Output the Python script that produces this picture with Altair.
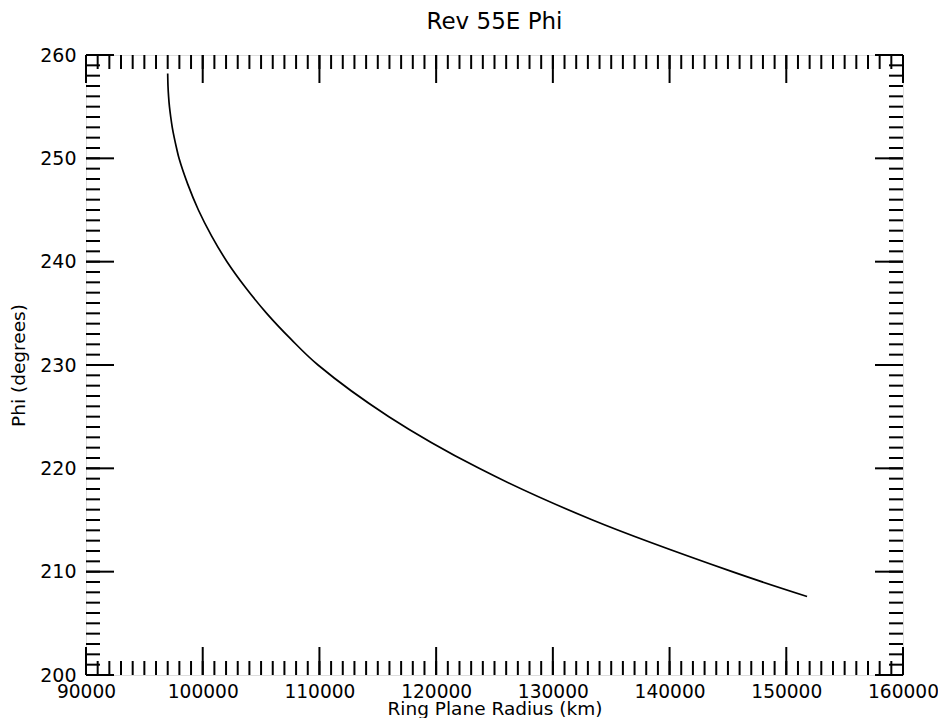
import altair as alt
import pandas as pd

# Curve (Ring Plane Radius km, Phi degrees)
radius = [97000, 97025, 97075, 97150, 97260, 97390, 97560, 97755, 97970, 98716,
          99630, 100755, 102080, 103670, 105480, 107560, 109880, 115950, 123680,
          133400, 145360, 151780]
phi = [258.2, 257.0, 256.0, 255.0, 254.0, 253.0, 252.0, 251.0, 250.0, 247.5,
       245.0, 242.5, 240.0, 237.5, 235.0, 232.5, 230.0, 225.0, 220.0,
       215.0, 210.0, 207.6]

x_major = [90000, 100000, 110000, 120000, 130000, 140000, 150000, 160000]
x_minor = list(range(90000, 160001, 1000))
y_major = [200, 210, 220, 230, 240, 250, 260]
y_minor = list(range(200, 261, 1))
title_text = "Rev 55E Phi"

W, H = 817, 620
MAJ, MIN = 28, 14
FONT = "DejaVu Sans"

xscale = alt.Scale(domain=[90000, 160000], nice=False, zero=False)
yscale = alt.Scale(domain=[200, 260], nice=False, zero=False)

xaxis = alt.Axis(values=x_major, ticks=False, domain=False, grid=False,
                 labelFontSize=18.6, labelFont=FONT, labelColor="black",
                 labelPadding=7, labelFlush=False, labelOverlap=False, format="d",
                 titleFontSize=18.5, titleFont=FONT, titleFontWeight="normal",
                 titleColor="black", titleBaseline="alphabetic", titlePadding=14)
yaxis = alt.Axis(values=y_major, ticks=False, domain=False, grid=False,
                 labelFontSize=19, labelFont=FONT, labelColor="black",
                 labelPadding=10, labelFlush=False, labelOverlap=False, format="d",
                 titleFontSize=18.5, titleFont=FONT, titleFontWeight="normal",
                 titleColor="black", titlePadding=11)
XT = "Ring Plane Radius (km)"
YT = "Phi (degrees)"

curve = pd.DataFrame({"r": radius, "phi": phi})

line = alt.Chart(curve).mark_line(color="black", strokeWidth=1.7, interpolate="catmull-rom").encode(
    x=alt.X("r:Q", scale=xscale, title=XT, axis=xaxis),
    y=alt.Y("phi:Q", scale=yscale, title=YT, axis=yaxis),
)

def xticks(vals, length):
    d = pd.DataFrame({"r": vals})
    base = alt.Chart(d).mark_rule(color="black", strokeWidth=2)
    bottom = base.encode(x=alt.X("r:Q", scale=xscale, title=XT, axis=xaxis),
                         y=alt.value(H), y2=alt.value(H - length))
    top = base.encode(x=alt.X("r:Q", scale=xscale, title=XT, axis=xaxis),
                      y=alt.value(0), y2=alt.value(length))
    return [bottom, top]

def yticks(vals, length):
    d = pd.DataFrame({"phi": vals})
    base = alt.Chart(d).mark_rule(color="black", strokeWidth=2)
    left = base.encode(y=alt.Y("phi:Q", scale=yscale, title=YT, axis=yaxis),
                       x=alt.value(0), x2=alt.value(length))
    right = base.encode(y=alt.Y("phi:Q", scale=yscale, title=YT, axis=yaxis),
                        x=alt.value(W), x2=alt.value(W - length))
    return [left, right]

title = alt.Chart(pd.DataFrame({"t": [title_text]})).mark_text(
    font=FONT, fontSize=23, color="black", align="center", baseline="alphabetic"
).encode(x=alt.value(W / 2), y=alt.value(-26), text="t:N")

layers = ([line] + xticks(x_minor, MIN) + xticks(x_major, MAJ)
          + yticks(y_minor, MIN) + yticks(y_major, MAJ) + [title])

chart = alt.layer(*layers).properties(
    width=W, height=H,
    autosize=alt.AutoSizeParams(type="none"),
    padding={"left": 78, "top": 47, "right": 35, "bottom": 43},
).configure_view(stroke="black", strokeWidth=2).configure(background="white")

chart.save("out.html", embed_options={"renderer": "svg", "actions": False})
